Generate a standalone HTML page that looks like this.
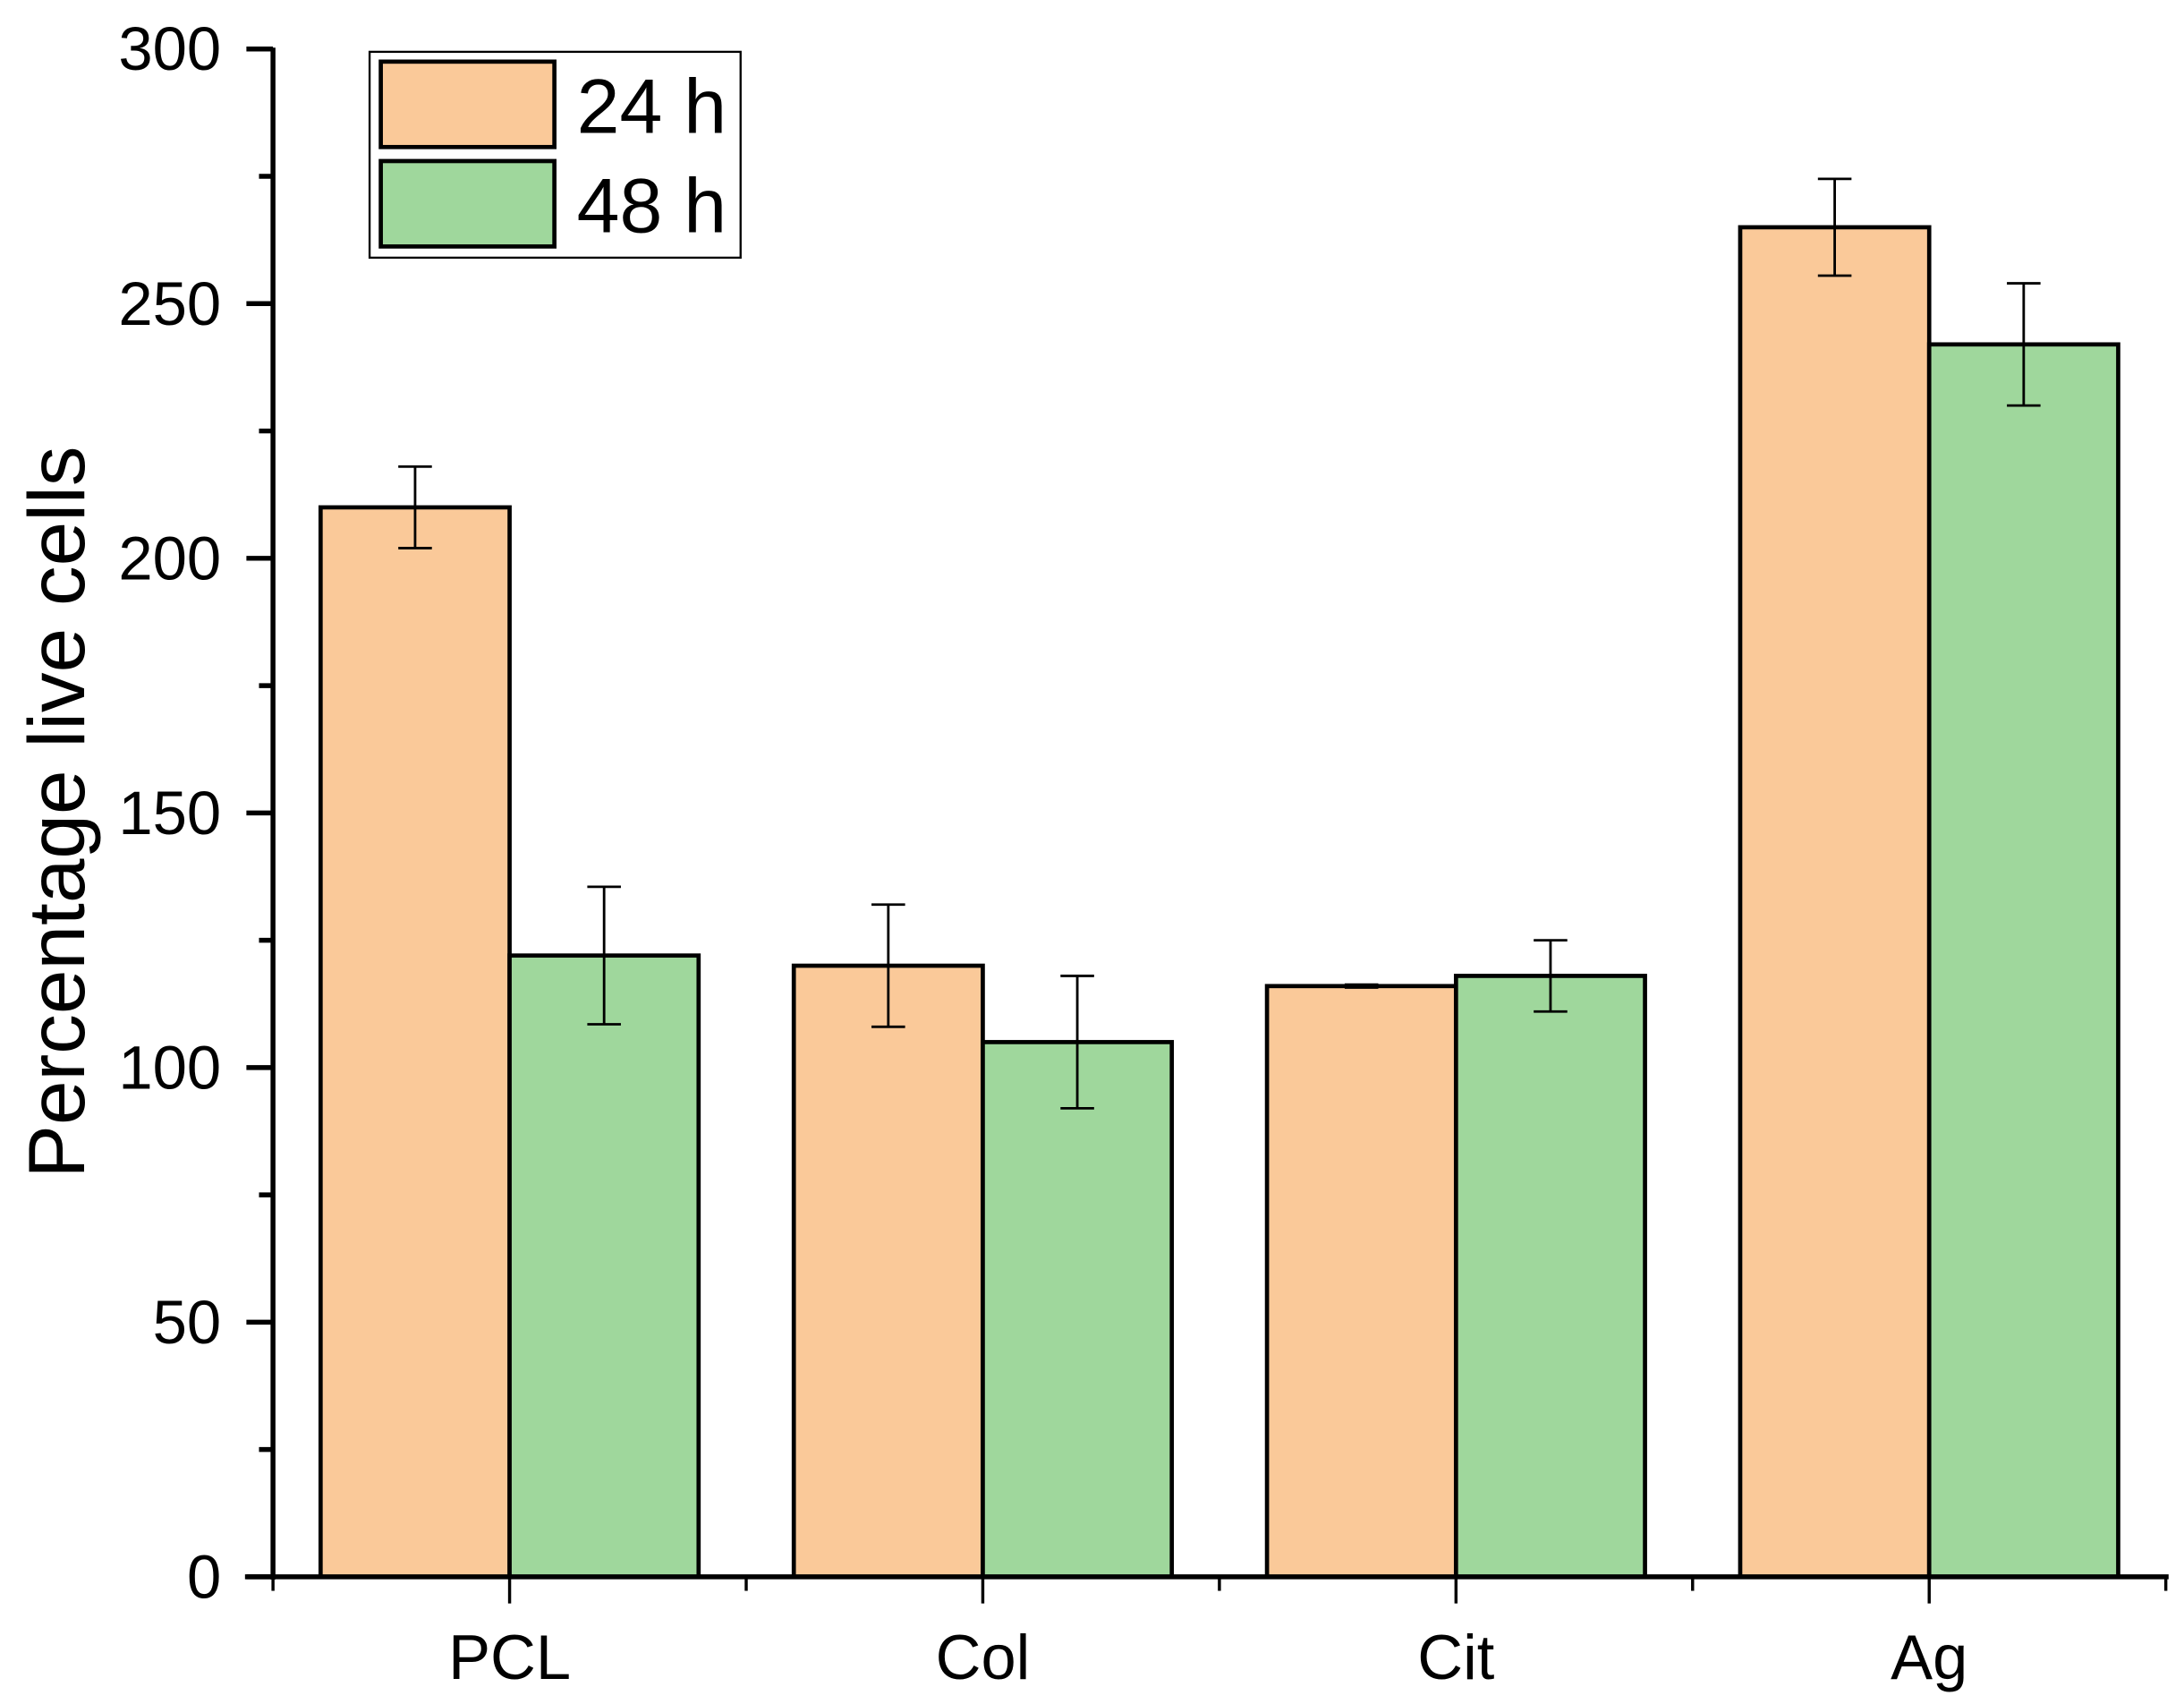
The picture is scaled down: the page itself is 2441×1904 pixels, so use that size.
<!DOCTYPE html>
<html><head><meta charset="utf-8"><style>html,body{margin:0;padding:0;background:#fff}svg{display:block}</style></head>
<body>
<svg id="chart" width="2441" height="1904" viewBox="0 0 1560 1216.8" xmlns="http://www.w3.org/2000/svg" font-family="Liberation Sans, Arial, sans-serif">
<g id="plot"></g>
</svg>
<script>
const categories = ["PCL", "Col", "Cit", "Ag"];
const seriesNames = ["24 h", "48 h"];
const values24 = [210, 120, 116, 265];
const errors24 = [8, 12, 0.3, 9.5];
const values48 = [122, 105, 118, 242];
const errors48 = [13.5, 13, 7, 12];
const yTicks = [0, 50, 100, 150, 200, 250, 300];

const NS = "http://www.w3.org/2000/svg";
const g = document.getElementById("plot");
const X0 = 195, X1 = 1547, Y0 = 1126, Ytop = 35, yMax = 300;
const y = v => Y0 - (v / yMax) * (Y0 - Ytop);
const groupW = (X1 - X0) / categories.length;
const barW = 135;
const xCenter = i => X0 + groupW * (i + 0.5);
function mk(tag, attrs, parent) {
  const e = document.createElementNS(NS, tag);
  for (const k in attrs) e.setAttribute(k, attrs[k]);
  (parent || g).appendChild(e);
  return e;
}
const colors = ["#FAC999", "#9FD79C"];
const seriesVals = [values24, values48];
const seriesErr = [errors24, errors48];
seriesVals.forEach((vals, s) => {
  vals.forEach((v, i) => {
    const x = s === 0 ? xCenter(i) - barW : xCenter(i);
    const r = mk("rect", {x: x, y: y(v), width: barW, height: Y0 - y(v), fill: colors[s], stroke: "#000", "stroke-width": 3});
    
    
    const cx = x + barW / 2, e = seriesErr[s][i];
    const eb = mk("path", {d: `M${cx} ${y(v + e)}V${y(v - e)}M${cx - 12} ${y(v + e)}H${cx + 12}M${cx - 12} ${y(v - e)}H${cx + 12}`, stroke: "#000", "stroke-width": 1.8, fill: "none"});
    
    
  });
});
// y axis
const ya = mk("line", {x1: X0, y1: Ytop - 1, x2: X0, y2: Y0 + 2, stroke: "#000", "stroke-width": 3.5});


for (let v = 0; v <= yMax; v += 25) {
  const major = v % 50 === 0;
  mk("line", {x1: X0 - (major ? 19 : 10), y1: y(v), x2: X0, y2: y(v), stroke: "#000", "stroke-width": 3.5});
}
yTicks.forEach(v => {
  const t = mk("text", {x: 158, y: y(v) + 15, "text-anchor": "end", "font-size": 44});
  t.textContent = v;
  
  
});
// x axis
const xa = mk("line", {x1: X0 - 20, y1: Y0, x2: X1 + 2, y2: Y0, stroke: "#000", "stroke-width": 3.5});


for (let i = 0; i <= categories.length; i++) {
  const x = X0 + groupW * i;
  mk("line", {x1: x, y1: Y0, x2: x, y2: Y0 + 10, stroke: "#000", "stroke-width": 2.2});
}
categories.forEach((c, i) => {
  mk("line", {x1: xCenter(i), y1: Y0, x2: xCenter(i), y2: Y0 + 19, stroke: "#000", "stroke-width": 2.2});
  const t = mk("text", {x: xCenter(i), y: 1199, "text-anchor": "middle", "font-size": 45});
  t.textContent = c;
  
  
});
const yt = mk("text", {x: 0, y: 0, "text-anchor": "middle", "font-size": 57, transform: "translate(60,580) rotate(-90)"});
yt.textContent = "Percentage live cells";


// legend
const lg = mk("g", {});


mk("rect", {x: 264, y: 37, width: 265, height: 147, fill: "#fff", stroke: "#000", "stroke-width": 1.5}, lg);
seriesNames.forEach((n, s) => {
  const sw = mk("rect", {x: 272, y: 44 + s * 71, width: 124, height: 61, fill: colors[s], stroke: "#000", "stroke-width": 3}, lg);
  
  
  const t = mk("text", {x: 412, y: 95 + s * 71, "font-size": 55}, lg);
  t.textContent = n;
  
  
});
</script>
</body></html>
